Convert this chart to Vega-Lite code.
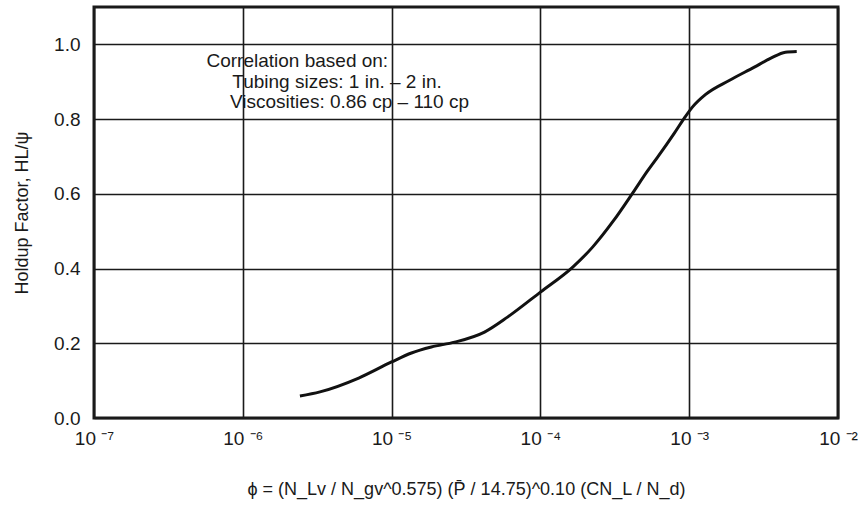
{
  "$schema": "https://vega.github.io/schema/vega-lite/v6.json",
  "width": 744,
  "height": 411,
  "autosize": {"type": "none"},
  "padding": {"left": 94, "top": 7, "right": 24, "bottom": 109},
  "background": "white",
  "config": {
    "font": "Liberation Sans, Arial, sans-serif",
    "view": {"stroke": "#1a1a1a", "strokeWidth": 3},
    "axis": {
      "domain": false,
      "ticks": false,
      "grid": true,
      "gridColor": "#1a1a1a",
      "gridWidth": 1.6,
      "gridOpacity": 1,
      "labelFont": "Liberation Sans, Arial, sans-serif",
      "labelFontSize": 19,
      "labelColor": "#1a1a1a",
      "titleFont": "Liberation Sans, Arial, sans-serif",
      "titleFontSize": 18,
      "titleFontWeight": "normal",
      "titleColor": "#1a1a1a"
    }
  },
  "datasets": {
    "curve": [
      {"phi": 2.42e-6, "holdup": 0.059},
      {"phi": 3.30e-6, "holdup": 0.070},
      {"phi": 6.01e-6, "holdup": 0.107},
      {"phi": 1.0e-5, "holdup": 0.150},
      {"phi": 1.36e-5, "holdup": 0.174},
      {"phi": 1.85e-5, "holdup": 0.190},
      {"phi": 2.65e-5, "holdup": 0.203},
      {"phi": 4.21e-5, "holdup": 0.230},
      {"phi": 6.01e-5, "holdup": 0.270},
      {"phi": 1.0e-4, "holdup": 0.337},
      {"phi": 1.65e-4, "holdup": 0.404},
      {"phi": 2.25e-4, "holdup": 0.458},
      {"phi": 3.1e-4, "holdup": 0.528},
      {"phi": 4.2e-4, "holdup": 0.604},
      {"phi": 5.22e-4, "holdup": 0.660},
      {"phi": 6.1e-4, "holdup": 0.697},
      {"phi": 7.93e-4, "holdup": 0.762},
      {"phi": 9.25e-4, "holdup": 0.802},
      {"phi": 1.05e-3, "holdup": 0.832},
      {"phi": 1.29e-3, "holdup": 0.866},
      {"phi": 1.87e-3, "holdup": 0.904},
      {"phi": 2.74e-3, "holdup": 0.939},
      {"phi": 3.54e-3, "holdup": 0.963},
      {"phi": 4.43e-3, "holdup": 0.979},
      {"phi": 5.28e-3, "holdup": 0.981}
    ],
    "notes": [
      {"phi": 5.7e-7, "holdup": 0.955, "label": "Correlation based on:"},
      {"phi": 8.5e-7, "holdup": 0.899, "label": "Tubing sizes: 1 in. – 2 in."},
      {"phi": 8.2e-7, "holdup": 0.846, "label": "Viscosities: 0.86 cp – 110 cp"}
    ]
  },
  "layer": [
    {
      "data": {"name": "curve"},
      "mark": {"type": "line", "color": "#111", "strokeWidth": 3, "interpolate": "monotone"},
      "encoding": {
        "x": {
          "field": "phi", "type": "quantitative",
          "scale": {"type": "log", "domain": [1e-7, 1e-2], "nice": false},
          "axis": {
            "values": [1e-7, 1e-6, 1e-5, 1e-4, 1e-3, 1e-2],
            "labelExpr": "'10 ' + ['⁻⁷','⁻⁶','⁻⁵','⁻⁴','⁻³','⁻²'][round(log(datum.value)/LN10) + 7]",
            "labelPadding": 11,
            "labelFlush": false,
            "title": "ϕ = (N_Lv / N_gv^0.575) (P̄ / 14.75)^0.10 (CN_L / N_d)",
            "titlePadding": 32
          }
        },
        "y": {
          "field": "holdup", "type": "quantitative",
          "scale": {"domain": [0, 1.1], "nice": false, "zero": true},
          "axis": {
            "values": [0, 0.2, 0.4, 0.6, 0.8, 1.0],
            "format": ".1f",
            "labelPadding": 14,
            "title": "Holdup Factor, HL/ψ",
            "titlePadding": 22
          }
        }
      }
    },
    {
      "data": {"name": "notes"},
      "mark": {"type": "text", "align": "left", "baseline": "middle", "fontSize": 19, "color": "#1a1a1a", "font": "Liberation Sans, Arial, sans-serif"},
      "encoding": {
        "x": {"field": "phi", "type": "quantitative"},
        "y": {"field": "holdup", "type": "quantitative"},
        "text": {"field": "label"}
      }
    }
  ]
}
